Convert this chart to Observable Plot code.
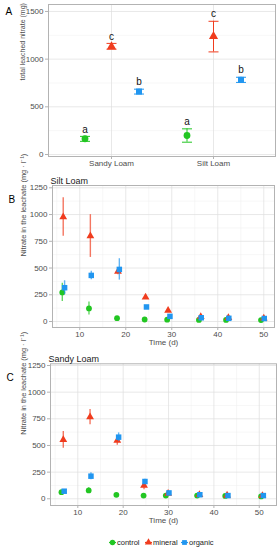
<!DOCTYPE html>
<html><head><meta charset="utf-8">
<script src="https://cdn.jsdelivr.net/npm/d3@7"></script>
<script src="https://cdn.jsdelivr.net/npm/@observablehq/plot@0.6"></script>
<style>
body{margin:0;background:#fff;}
#wrap{position:relative;width:279px;height:550px;overflow:hidden;background:#fff;}
#wrap svg{position:absolute;left:0;}
</style></head>
<body><div id="wrap"></div>
<script>
// ---------- data ----------
const soils = ["Sandy Loam", "Silt Loam"];
const treatments = ["control", "mineral", "organic"];

// Panel A: total leached nitrate (mg)
const totalSoil   = ["Sandy Loam","Sandy Loam","Sandy Loam","Silt Loam","Silt Loam","Silt Loam"];
const totalTreat  = ["control","mineral","organic","control","mineral","organic"];
const totalMean   = [165, 1132, 660, 199, 1240, 783];
const totalLo     = [138, 1104, 634, 129, 1076, 756];
const totalHi     = [190, 1165, 685, 269, 1397, 810];
const totalLetter = ["a", "c", "b", "a", "c", "b"];

// Panel B: Silt Loam, nitrate in leachate (mg l-1)
const siltControlT  = [6.2, 12.0, 18.1, 24.1, 29.0, 35.9, 41.8, 49.4];
const siltControlY  = [272, 122, 31, 19, 17, 15, 15, 13];
const siltControlSe = [85, 60, 5, 4, 4, 4, 4, 4];
const siltMineralT  = [6.4, 12.3, 18.3, 24.3, 29.2, 36.3, 42.3, 50.0];
const siltMineralY  = [976, 799, 468, 227, 103, 45, 35, 30];
const siltMineralSe = [180, 200, 30, 10, 10, 10, 8, 8];
const siltOrganicT  = [6.7, 12.5, 18.6, 24.5, 29.6, 36.4, 42.4, 50.1];
const siltOrganicY  = [316, 431, 487, 136, 48, 35, 30, 28];
const siltOrganicSe = [65, 40, 100, 10, 6, 5, 5, 5];

// Panel C: Sandy Loam, nitrate in leachate (mg l-1)
const sandyControlT  = [6.4, 12.4, 18.5, 24.5, 29.4, 36.3, 42.5, 50.4];
const sandyControlY  = [62, 78, 37, 30, 30, 30, 27, 22];
const sandyControlSe = [8, 25, 5, 4, 4, 4, 4, 4];
const sandyMineralT  = [6.8, 12.7, 18.7, 24.6, 29.9, 36.8, 42.9, 50.7];
const sandyMineralY  = [553, 766, 547, 125, 50, 38, 32, 28];
const sandyMineralSe = [78, 72, 45, 40, 8, 6, 6, 5];
const sandyOrganicT  = [7.0, 12.9, 19.0, 24.8, 30.1, 36.9, 43.1, 50.9];
const sandyOrganicY  = [71, 212, 578, 162, 55, 38, 30, 30];
const sandyOrganicSe = [10, 33, 40, 22, 6, 5, 5, 5];

const timeTicks = [10, 20, 30, 40, 50];
const timeMinor = [5, 15, 25, 35, 45];
const concTicks = [0, 250, 500, 750, 1000, 1250];
const concMinor = [125, 375, 625, 875, 1125];
const totalTicks = [0, 500, 1000, 1500];
const totalMinor = [250, 750, 1250];

// ---------- styles ----------
const FONT = "'Liberation Sans', Arial, Helvetica, sans-serif";
const COLORS = {control: "#22c622", mineral: "#f03c1e", organic: "#2196f0"};
const SYMBOLS = {control: "circle", mineral: "triangle", organic: "square"};
const FRAME = "#b3b3b3", MAJOR = "#dedede", MINOR = "#eeeeee", TXT = "#4d4d4d";
const capSymbol = {draw(ctx, size) { const w = Math.sqrt(size / Math.PI); ctx.moveTo(-w, 0); ctx.lineTo(w, 0); }};
const DODGE = {control: -26.5, mineral: 0, organic: 27.5};
const fmt = d3.format("d");

const wrap = document.getElementById("wrap");
function place(svg, top) { svg.style.top = top + "px"; wrap.appendChild(svg); }

// ---------- panel A ----------
const tableA = totalSoil.map((s, i) => ({soil: s, treatment: totalTreat[i], mean: totalMean[i], lo: totalLo[i], hi: totalHi[i], letter: totalLetter[i]}));
const marksA = [];
for (const tr of treatments) {
  const rows = tableA.filter(d => d.treatment === tr);
  const dx = DODGE[tr], c = COLORS[tr];
  marksA.push(
    Plot.ruleX(rows, {x: "soil", y1: "lo", y2: "hi", dx, stroke: c, strokeWidth: 1}),
    Plot.dot(rows, {x: "soil", y: "lo", dx, symbol: capSymbol, r: 5, stroke: c, fill: "none", strokeWidth: 1}),
    Plot.dot(rows, {x: "soil", y: "hi", dx, symbol: capSymbol, r: 5, stroke: c, fill: "none", strokeWidth: 1}),
    Plot.dot(rows, {x: "soil", y: "mean", dx, symbol: SYMBOLS[tr], r: 3.4, fill: c, stroke: "none"}),
    Plot.text(rows, {x: "soil", y: "hi", text: "letter", dx, dy: -7, fontSize: 10, fill: "#111"})
  );
}
const plotA = Plot.plot({
  width: 279, height: 170,
  marginLeft: 48, marginRight: 4, marginTop: 4, marginBottom: 14,
  style: {fontFamily: FONT, fontSize: "8px", background: "white", overflow: "visible"},
  x: {type: "point", domain: soils, padding: 0.61, axis: null},
  y: {domain: [-21, 1573], axis: null},
  marks: [
    Plot.gridY({ticks: totalMinor, stroke: MINOR, strokeOpacity: 1, strokeWidth: 0.5}),
    Plot.gridY({ticks: totalTicks, stroke: MAJOR, strokeOpacity: 1, strokeWidth: 0.7}),
    Plot.gridX({stroke: MAJOR, strokeOpacity: 1, strokeWidth: 0.7}),
    Plot.frame({stroke: FRAME}),
    Plot.axisY({ticks: totalTicks, tickFormat: fmt, tickSize: 3, tickPadding: 2, stroke: FRAME, fill: TXT, label: null, fontSize: 8}),
    Plot.axisX({tickSize: 3, tickPadding: 1, stroke: FRAME, fill: TXT, label: null, fontSize: 8}),
    Plot.text(["total leached nitrate (mg)"], {frameAnchor: "left", rotate: -90, dx: -26, fontSize: 7, fill: TXT}),
    Plot.text(["A"], {frameAnchor: "top-left", dx: -43, dy: 3, fontSize: 10, textAnchor: "start", fill: "#000"}),
    ...marksA
  ]
});
place(plotA, 0);

// ---------- panels B & C ----------
function series(tr, T, Y, S) { return T.map((t, i) => ({treatment: tr, t, y: Y[i], lo: Y[i] - S[i], hi: Y[i] + S[i]})); }
function timePanel({data, xDom, yDom, ml, mr, mt, mb, h, title, letter, ylabelDx}) {
  const marks = [
    Plot.gridX({ticks: timeMinor, stroke: MINOR, strokeOpacity: 1, strokeWidth: 0.5}),
    Plot.gridY({ticks: concMinor, stroke: MINOR, strokeOpacity: 1, strokeWidth: 0.5}),
    Plot.gridX({ticks: timeTicks, stroke: MAJOR, strokeOpacity: 1, strokeWidth: 0.7}),
    Plot.gridY({ticks: concTicks, stroke: MAJOR, strokeOpacity: 1, strokeWidth: 0.7}),
    Plot.frame({stroke: FRAME}),
    Plot.axisY({ticks: concTicks, tickFormat: fmt, tickSize: 3, tickPadding: 2, stroke: FRAME, fill: TXT, label: null, fontSize: 8}),
    Plot.axisX({ticks: timeTicks, tickFormat: fmt, tickSize: 3, tickPadding: 0.5, stroke: FRAME, fill: TXT, label: null, fontSize: 8}),
    Plot.text(["Time (d)"], {frameAnchor: "bottom", dy: 17, fontSize: 8, fill: TXT}),
    Plot.text(["Nitrate in the leachate (mg · l⁻¹)"], {frameAnchor: "left", rotate: -90, dx: ylabelDx, fontSize: 7.4, fill: TXT}),
    Plot.text([title], {frameAnchor: "top-left", dx: -2, dy: -8, fontSize: 9, textAnchor: "start", fill: "#1a1a1a"}),
    Plot.text([letter], {frameAnchor: "top-left", dx: -44, dy: 10, fontSize: 10, textAnchor: "start", fill: "#000"})
  ];
  for (const rows of data) {
    const tr = rows[0].treatment, c = COLORS[tr];
    marks.push(
      Plot.ruleX(rows, {x: "t", y1: "lo", y2: "hi", stroke: c, strokeWidth: 1.4, strokeOpacity: 0.7}),
      Plot.dot(rows, {x: "t", y: "y", symbol: SYMBOLS[tr], r: tr === "organic" ? 3.1 : 2.9, fill: c, stroke: "none"})
    );
  }
  return Plot.plot({
    width: 279, height: h,
    marginLeft: ml, marginRight: mr, marginTop: mt, marginBottom: mb,
    style: {fontFamily: FONT, fontSize: "8px", background: "white", overflow: "visible"},
    x: {domain: xDom, axis: null},
    y: {domain: yDom, axis: null},
    marks
  });
}

const plotB = timePanel({
  data: [series("control", siltControlT, siltControlY, siltControlSe),
         series("mineral", siltMineralT, siltMineralY, siltMineralSe),
         series("organic", siltOrganicT, siltOrganicY, siltOrganicSe)],
  xDom: [4.07, 52.33], yDom: [-56, 1271.5],
  ml: 52, mr: 5, mt: 15, mb: 21, h: 178, title: "Silt Loam", letter: "B", ylabelDx: -29
});
place(plotB, 170);

const plotC = timePanel({
  data: [series("control", sandyControlT, sandyControlY, sandyControlSe),
         series("mineral", sandyMineralT, sandyMineralY, sandyMineralSe),
         series("organic", sandyOrganicT, sandyOrganicY, sandyOrganicSe)],
  xDom: [3.98, 53.8], yDom: [-63, 1266],
  ml: 50, mr: 3, mt: 13.3, mb: 22, h: 177, title: "Sandy Loam", letter: "C", ylabelDx: -27.3
});
place(plotC, 350);

// ---------- legend ----------
const legend = Plot.plot({
  width: 279, height: 14,
  marginLeft: 112, marginRight: 95, marginTop: 0, marginBottom: 0,
  style: {fontFamily: FONT, fontSize: "8px", background: "white", overflow: "visible"},
  x: {type: "point", domain: treatments, padding: 0, axis: null},
  marks: [
    Plot.dot(treatments, {x: d => d, symbol: capSymbol, r: 3.5, stroke: d => COLORS[d], fill: "none", strokeWidth: 1.2}),
    Plot.dot(treatments, {x: d => d, symbol: d => SYMBOLS[d], r: 2.7, fill: d => COLORS[d], stroke: "none"}),
    Plot.text(treatments, {x: d => d, text: d => d, dx: 4.5, textAnchor: "start", fontSize: 7.5, fill: "#222"})
  ]
});
place(legend, 535);
</script>
</body></html>
